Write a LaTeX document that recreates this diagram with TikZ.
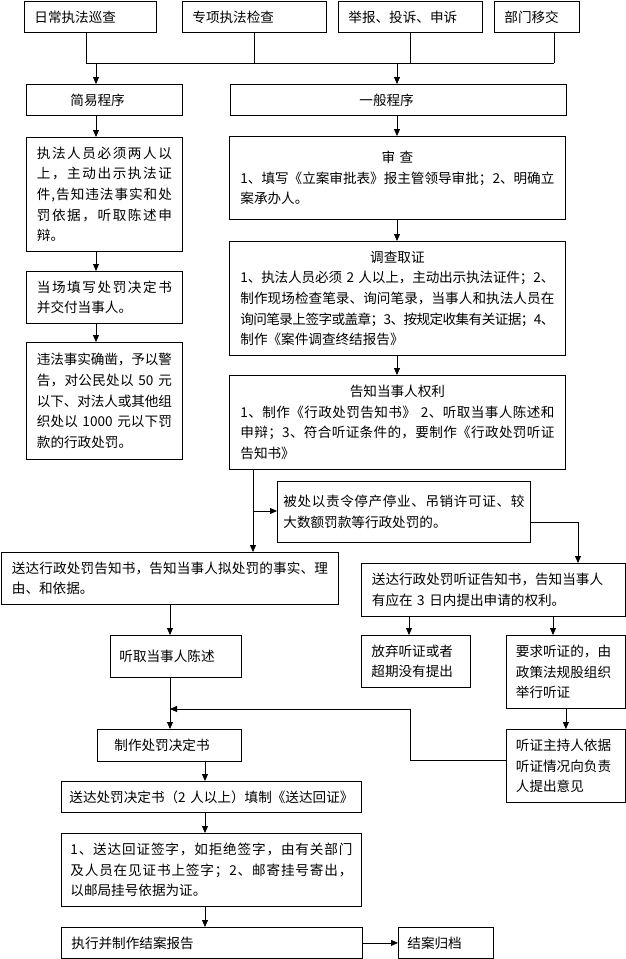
\documentclass[tikz,border=0pt]{standalone}
\usepackage{fontspec}
\setmainfont{Noto Sans CJK SC}
\usetikzlibrary{arrows.meta}
\setlength\parindent{0pt}
\def\jlgap{\hskip0pt plus 1fil minus 1.5pt\relax}
\newcommand\jl[1]{\makebox[\hsize][s]{\jlfirst#1\relax}}
\def\jlfirst#1{#1\jlnext}
\def\jlnext#1{\ifx#1\relax\else\jlgap#1\expandafter\jlnext\fi}
\tikzset{
  box/.style={draw, line width=0.8pt, inner sep=0pt, anchor=north west, align=left,
    font=\fontsize{13.6pt}{20.7pt}\selectfont},
  arr/.style={line width=0.8pt, -{Triangle[length=7pt,width=6pt]}},
  ln/.style={line width=0.8pt}
}
\begin{document}
\begin{tikzpicture}[x=1pt,y=-1pt]
\useasboundingbox (0,0) rectangle (626,959);
% top sources
\node[box, minimum width=132pt, minimum height=31pt, text width=112pt] (t1) at (24,1) {日常执法巡查};
\node[box, minimum width=144pt, minimum height=31pt, text width=124pt] (t2) at (182,1) {专项执法检查};
\node[box, minimum width=144pt, minimum height=31pt, text width=124pt] (t3) at (338,1) {举报、投诉、申诉};
\node[box, minimum width=85pt, minimum height=31pt, text width=65pt] (t4) at (494,1) {部门移交};
% procedures
\node[box, minimum width=156pt, minimum height=31pt, text width=68pt] (jy) at (26,84) {简易程序};
\node[box, minimum width=336pt, minimum height=31pt, text width=78pt] (yb) at (230,84) {一般程序};
% simple column
\node[box, minimum width=156pt, minimum height=114pt, text width=135pt] (A1) at (26,137)
  {\jl{执法人员必须两人以}\\\jl{上，主动出示执法证}\\\jl{件,告知违法事实和处}\\\jl{罚依据，听取陈述申}\\辩。};
\node[box, minimum width=156pt, minimum height=52pt, text width=135pt] (A2) at (26,271)
  {\jl{当场填写处罚决定书}\\并交付当事人。};
\node[box, minimum width=156pt, minimum height=117pt, text width=135pt] (A3) at (26,342)
  {\jl{违法事实确凿，予以警}\\\jl{告，对公民处以{~50~}元}\\\jl{以下、对法人或其他组}\\\jl{织处以{~1000~}元以下罚}\\款的行政处罚。};
% general column
\node[box, minimum width=336pt, minimum height=83pt, text width=314pt] (sc) at (229,136)
  {\makebox[\hsize]{审~查}\\\jl{1、填写《立案审批表》报主管领导审批；2、明确立}\\案承办人。\par\vspace{8pt}};
\node[box, minimum width=336pt, minimum height=114pt, text width=314pt] (dc) at (229,241)
  {\makebox[\hsize]{调查取证}\\\jl{1、执法人员必须{~2~}人以上，主动出示执法证件；2、}\\\jl{制作现场检查笔录、询问笔录，当事人和执法人员在}\\\jl{询问笔录上签字或盖章；3、按规定收集有关证据；4、}\\制作《案件调查终结报告》};
\node[box, minimum width=336pt, minimum height=94pt, text width=314pt] (gz) at (229,375)
  {\makebox[\hsize]{告知当事人权利}\\\jl{1、制作《行政处罚告知书》{~2}、听取当事人陈述和}\\\jl{申辩；3、符合听证条件的，要制作《行政处罚听证}\\告知书》};
\node[box, minimum width=253pt, minimum height=61pt, text width=241pt] (bc) at (277,481)
  {\jl{被处以责令停产停业、吊销许可证、较}\\大数额罚款等行政处罚的。};
\node[box, minimum width=337pt, minimum height=52pt, text width=316pt] (sd) at (1,552)
  {\jl{送达行政处罚告知书，告知当事人拟处罚的事实、理}\\由、和依据。};
\node[box, minimum width=264pt, minimum height=53pt, text width=243pt] (ht) at (361,563)
  {送达行政处罚听证告知书，告知当事人\\有应在~3~日内提出申请的权利。};
\node[box, minimum width=131pt, minimum height=42pt, text width=113pt] (tq) at (110,635) {听取当事人陈述};
\node[box, minimum width=109pt, minimum height=52pt, text width=89pt] (fq) at (361,635) {放弃听证或者\\超期没有提出};
\node[box, minimum width=119pt, minimum height=73pt, text width=100pt] (yq) at (506,635) {要求听证的，由\\政策法规股组织\\举行听证};
\node[box, minimum width=144pt, minimum height=32pt, text width=110pt] (zz) at (97,729) {制作处罚决定书};
\node[box, minimum width=119pt, minimum height=73pt, text width=100pt] (zc) at (506,729) {听证主持人依据\\听证情况向负责\\人提出意见};
\node[box, minimum width=300pt, minimum height=31pt, text width=284pt] (sj) at (61,781) {送达处罚决定书（2~人以上）填制《送达回证》};
\node[box, minimum width=300pt, minimum height=73pt, text width=282pt] (hz) at (61,833)
  {\jl{1、送达回证签字，如拒绝签字，由有关部门}\\\jl{及人员在见证书上签字；2、邮寄挂号寄出，}\\以邮局挂号依据为证。};
\node[box, minimum width=301pt, minimum height=31pt, text width=281pt] (zx) at (61,927) {执行并制作结案报告};
\node[box, minimum width=95pt, minimum height=31pt, text width=77pt] (ga) at (398,927) {结案归档};
% bus at top
\coordinate (busL) at (86,63);
\coordinate (b2) at (254,63);
\coordinate (b3) at (410,63);
\coordinate (busR) at (554,63);
\draw[ln] (t1.south -| busL) -- (busL);
\draw[ln] (t2.south -| b2) -- (b2);
\draw[ln] (t3.south -| b3) -- (b3);
\draw[ln] (t4.south -| busR) -- (busR);
\draw[ln] (busL) -- (busR);
\coordinate (xL) at (96,63);
\coordinate (xG) at (397,63);
\draw[arr] (xL) -- (xL |- jy.north);
\draw[arr] (xG) -- (xG |- yb.north);
% simple column
\draw[arr] (jy.south -| xL) -- (A1.north -| xL);
\draw[arr] (A1.south -| xL) -- (A2.north -| xL);
\draw[arr] (A2.south -| xL) -- (A3.north -| xL);
% general column
\draw[arr] (yb.south -| xG) -- (sc.north -| xG);
\draw[arr] (sc.south -| xG) -- (dc.north -| xG);
\draw[arr] (dc.south -| xG) -- (gz.north -| xG);
\coordinate (xB) at (253,511);
\draw[arr] (gz.south -| xB) -- (sd.north -| xB);
\draw[arr] (xB) -- (xB -| bc.west);
\coordinate (xR) at (578,522);
\draw[arr] (bc.east |- xR) -| (ht.north -| xR);
\coordinate (xC) at (170,709);
\draw[arr] (sd.south -| xC) -- (tq.north -| xC);
\draw[arr] (tq.south -| xC) -- (zz.north -| xC);
\coordinate (xF) at (409,616);
\coordinate (xY) at (553,616);
\draw[arr] (ht.south -| xF) -- (fq.north -| xF);
\draw[arr] (ht.south -| xY) -- (yq.north -| xY);
\draw[arr] (yq.south) -- (zc.north);
\coordinate (h1) at (410,760);
\coordinate (h2) at (410,709);
\draw[arr] (zc.west |- h1) -- (h1) -- (h2) -- (xC);
\coordinate (xD) at (205,800);
\draw[arr] (zz.south -| xD) -- (sj.north -| xD);
\draw[arr] (sj.south -| xD) -- (hz.north -| xD);
\draw[arr] (hz.south -| xD) -- (zx.north -| xD);
\draw[arr] (zx.east) -- (ga.west);
\end{tikzpicture}
\end{document}
